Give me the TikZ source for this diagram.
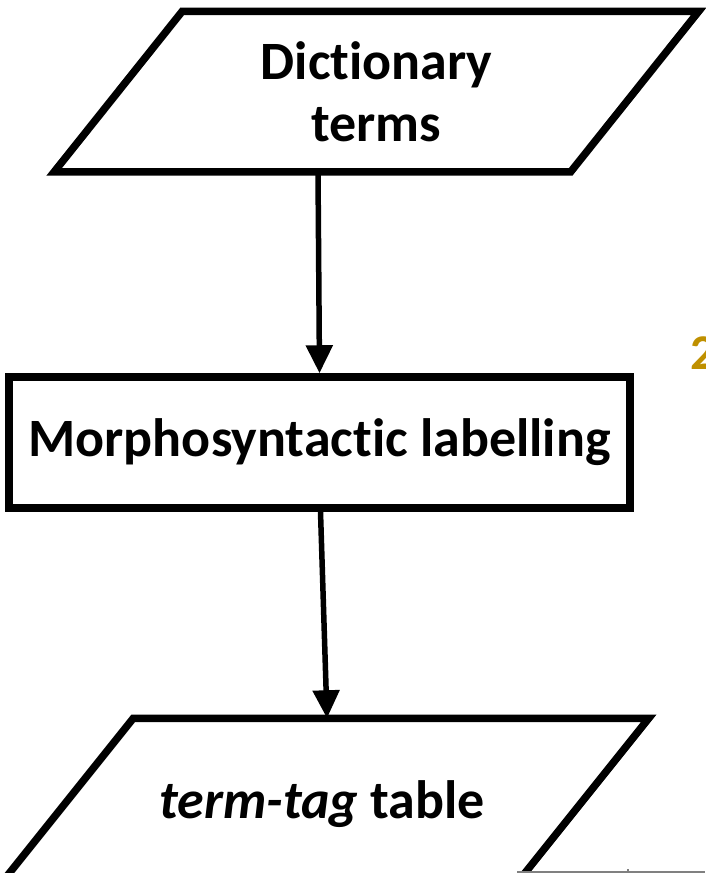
\documentclass[tikz,border=0pt]{standalone}
\usepackage{fontspec}
\setmainfont{Carlito}[Ligatures=CommonOff]
\usetikzlibrary{arrows.meta}
\definecolor{gold}{HTML}{BF9000}
\begin{document}
\begin{tikzpicture}[x=1pt, y=-1pt,
		io/.style={rectangle, inner sep=0pt, outer sep=3.75pt, align=center,
			font=\fontsize{54}{62}\selectfont\bfseries},
		ioline/.style={line width=7.5pt, line join=miter},
		proc/.style={rectangle, draw, line width=7.5pt,
			font=\fontsize{54}{62}\selectfont\bfseries},
		flow/.style={-{Triangle[length=28pt, width=26pt]}, line width=5.5pt}]
	\useasboundingbox (0, 0) rectangle (705, 873);

	\node[io, minimum width=509pt, minimum height=153pt]	(dict) at (376.5, 91.5) {Dictionary\\terms};
	\node[proc, minimum width=621pt, minimum height=131pt]	(morph) at (319.5, 442.5) {Morphosyntactic labelling};
	\node[io, minimum width=508pt, minimum height=165pt]	(tagtab) at (322, 804.5) {\textit{term-tag} table};

	% slanted sides of the data boxes
	\draw[ioline]	([xshift=64pt]dict.north west) to ([xshift=64pt]dict.north east)
					to ([xshift=-64pt]dict.south east) to ([xshift=-64pt]dict.south west) -- cycle;
	\draw[ioline]	([xshift=69pt]tagtab.north west) to ([xshift=69pt]tagtab.north east)
					to ([xshift=-69pt]tagtab.south east) to ([xshift=-69pt]tagtab.south west) -- cycle;

	\draw[flow]	([xshift=-58.5pt]dict.south) to (morph.north);
	\draw[flow]	([xshift=1pt]morph.south) to ([xshift=5pt]tagtab.north);

	% cut-off parts at the edges
	\node[text=gold, anchor=west, inner sep=0pt, font=\fontsize{50}{52}\selectfont\bfseries] (two) at (690, 353) {2};
	\draw[gray, line width=1.5pt]	(517, 872) to (705, 872)
									(628, 869) to (628, 875);
\end{tikzpicture}
\end{document}
